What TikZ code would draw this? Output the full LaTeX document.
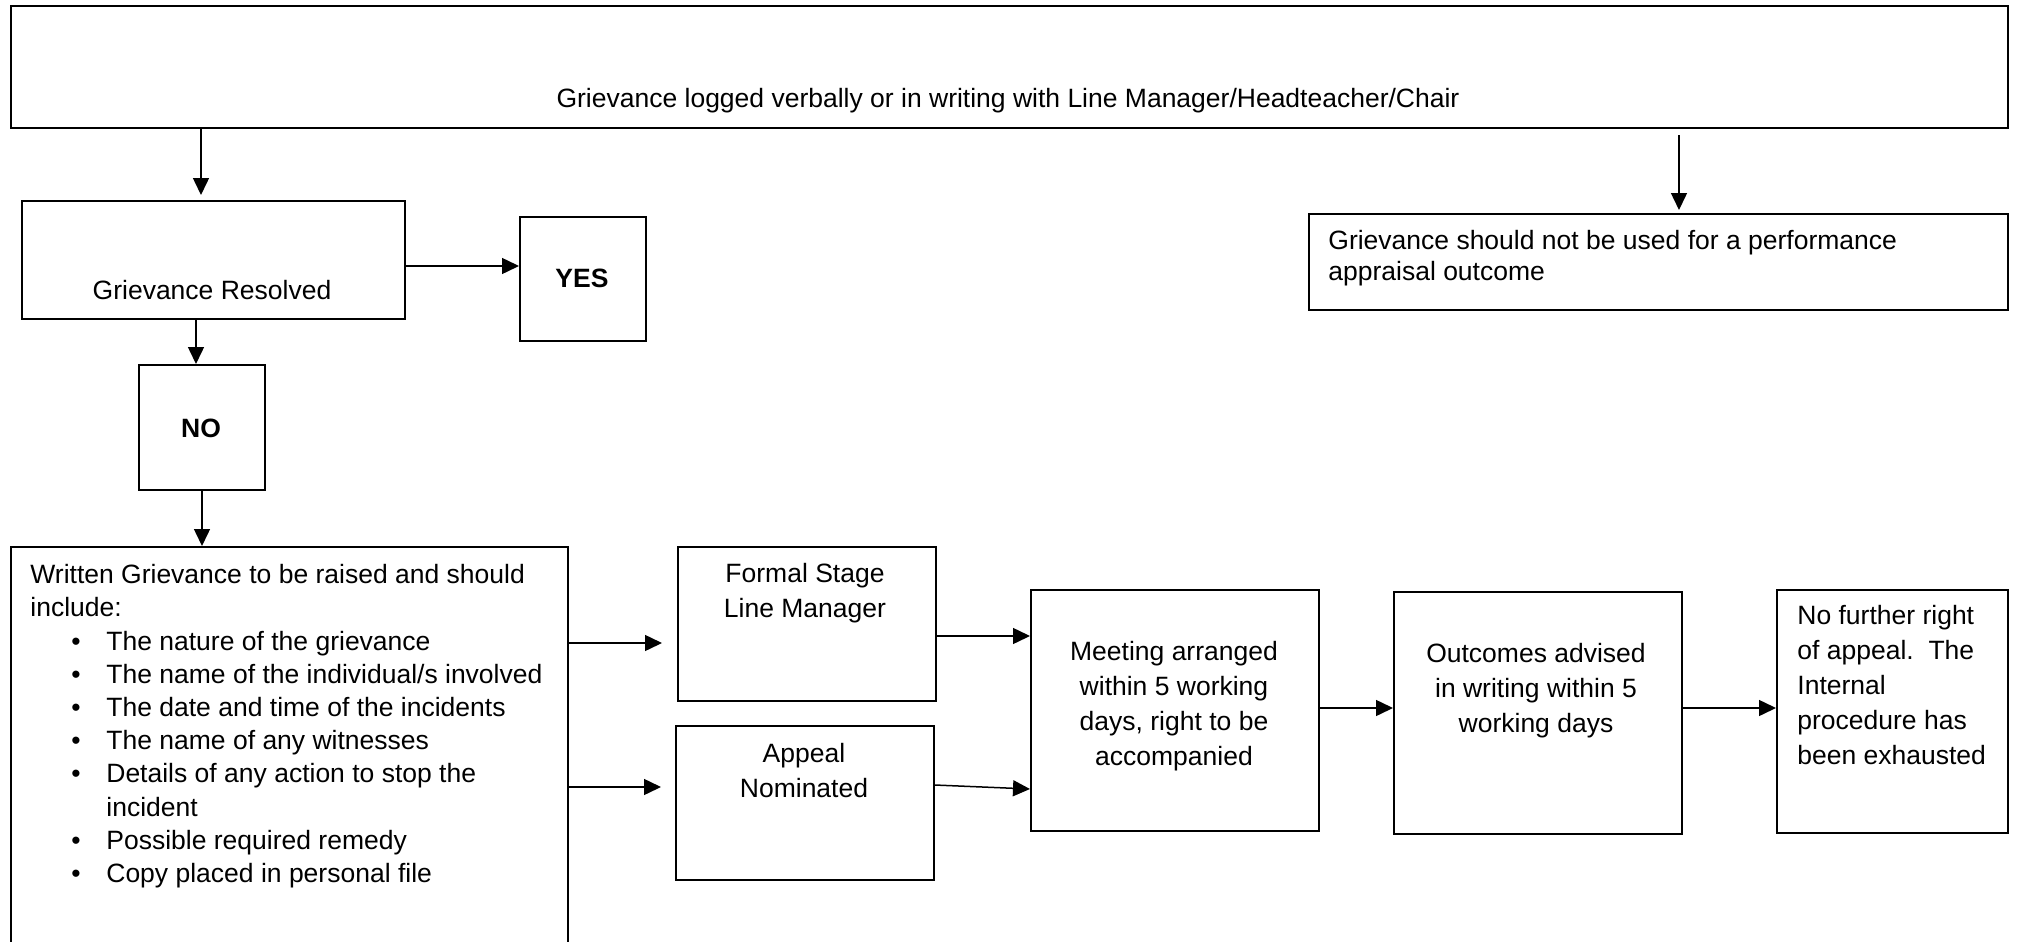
\documentclass[tikz,border=0pt]{standalone}
\usepackage{fontspec}
\setmainfont{Liberation Sans}
\usetikzlibrary{arrows.meta,calc}
\begin{document}
\begin{tikzpicture}[x=0.5pt,y=-0.5pt,
  box/.style={draw, line width=0.8pt, inner sep=0pt, anchor=north west},
  txt/.style={inner sep=0pt, font=\fontsize{13.25pt}{17.5pt}\selectfont},
  arr/.style={line width=0.75pt, -{Triangle[length=8.5pt,width=8pt]}}]
\useasboundingbox (0,0) rectangle (2026,942);

% boxes
\node[box, line width=1.1pt, minimum width=998.5pt, minimum height=61pt] (top) at (10,5) {};
\node[box, minimum width=191.5pt, minimum height=59pt] (res) at (21,200) {};
\node[box, minimum width=63pt, minimum height=62pt] (yes) at (519,216) {};
\node[box, minimum width=63pt, minimum height=62.5pt] (no) at (138,364) {};
\node[box, minimum width=349.5pt, minimum height=48pt] (perf) at (1308,213) {};
\node[box, minimum width=278.5pt, minimum height=207pt] (written) at (10,546) {};
\node[box, minimum width=129pt, minimum height=77pt] (formal) at (677,546) {};
\node[box, minimum width=129pt, minimum height=77pt] (appeal) at (675,725) {};
\node[box, minimum width=144pt, minimum height=120.5pt] (meeting) at (1030,589) {};
\node[box, minimum width=144pt, minimum height=121pt] (outcomes) at (1393,591) {};
\node[box, minimum width=115.5pt, minimum height=121.5pt] (nofurther) at (1776,589) {};

% texts
\node[txt, anchor=base] (ttop) at (1008,107) {Grievance logged verbally or in writing with Line Manager/Headteacher/Chair};
\node[txt, anchor=base] (tres) at (212,299) {Grievance Resolved};
\node[txt, anchor=base, font=\fontsize{13.25pt}{17.5pt}\selectfont\bfseries] (tyes) at (582,287) {YES};
\node[txt, anchor=base, font=\fontsize{13.25pt}{17.5pt}\selectfont\bfseries] (tno) at (201,437) {NO};
\node[txt, anchor=north west, align=left, font=\fontsize{13.25pt}{15.5pt}\selectfont] (tperf) at (1328,230)
  {Grievance should not be used for a performance\\appraisal outcome};
\node[txt, anchor=north west, align=left, font=\fontsize{13.25pt}{16.6pt}\selectfont] (twritten) at (30,564)
  {Written Grievance to be raised and should\\
   include:\\
   \hspace*{20.5pt}\makebox[17.5pt][l]{\textbullet}The nature of the grievance\\
   \hspace*{20.5pt}\makebox[17.5pt][l]{\textbullet}The name of the individual/s involved\\
   \hspace*{20.5pt}\makebox[17.5pt][l]{\textbullet}The date and time of the incidents\\
   \hspace*{20.5pt}\makebox[17.5pt][l]{\textbullet}The name of any witnesses\\
   \hspace*{20.5pt}\makebox[17.5pt][l]{\textbullet}Details of any action to stop the\\
   \hspace*{38pt}incident\\
   \hspace*{20.5pt}\makebox[17.5pt][l]{\textbullet}Possible required remedy\\
   \hspace*{20.5pt}\makebox[17.5pt][l]{\textbullet}Copy placed in personal file};
\node[txt, anchor=north, align=center] (tformal) at (805,563) {Formal Stage\\Line Manager};
\node[txt, anchor=north, align=center] (tappeal) at (804,743) {Appeal\\Nominated};
\node[txt, anchor=north, align=center] (tmeeting) at (1174,641)
  {Meeting arranged\\within 5 working\\days, right to be\\accompanied};
\node[txt, anchor=north, align=center] (toutcomes) at (1536,643)
  {Outcomes advised\\in writing within 5\\working days};
\node[txt, anchor=north west, align=left] (tnof) at (1797,605)
  {No further right\\of appeal.\ \ The\\Internal\\procedure has\\been exhausted};

% connectors
\draw[arr] (top.south -| 201,0) -- ($(res.north -| 201,0)+(0,-5)$);
\draw[arr] (res.east |- 0,266) -- (yes.west |- 0,266);
\draw[arr] (res.south -| 196,0) -- (no.north -| 196,0);
\draw[arr] (no.south -| 202,0) -- (written.north -| 202,0);
\draw[arr] ($(top.south -| 1679,0)+(0,6)$) -- ($(perf.north -| 1679,0)+(0,-3)$);
\draw[arr] (written.east |- 0,643) -- ($(formal.west |- 0,643)+(-15,0)$);
\draw[arr] (written.east |- 0,787) -- ($(appeal.west |- 0,787)+(-14,0)$);
\draw[arr] (formal.east |- 0,636) -- (meeting.west |- 0,636);
\draw[arr] (appeal.east |- 0,785) -- (meeting.west |- 0,789);
\draw[arr] (meeting.east |- 0,708) -- (outcomes.west |- 0,708);
\draw[arr] (outcomes.east |- 0,708) -- (nofurther.west |- 0,708);
\end{tikzpicture}
\end{document}
